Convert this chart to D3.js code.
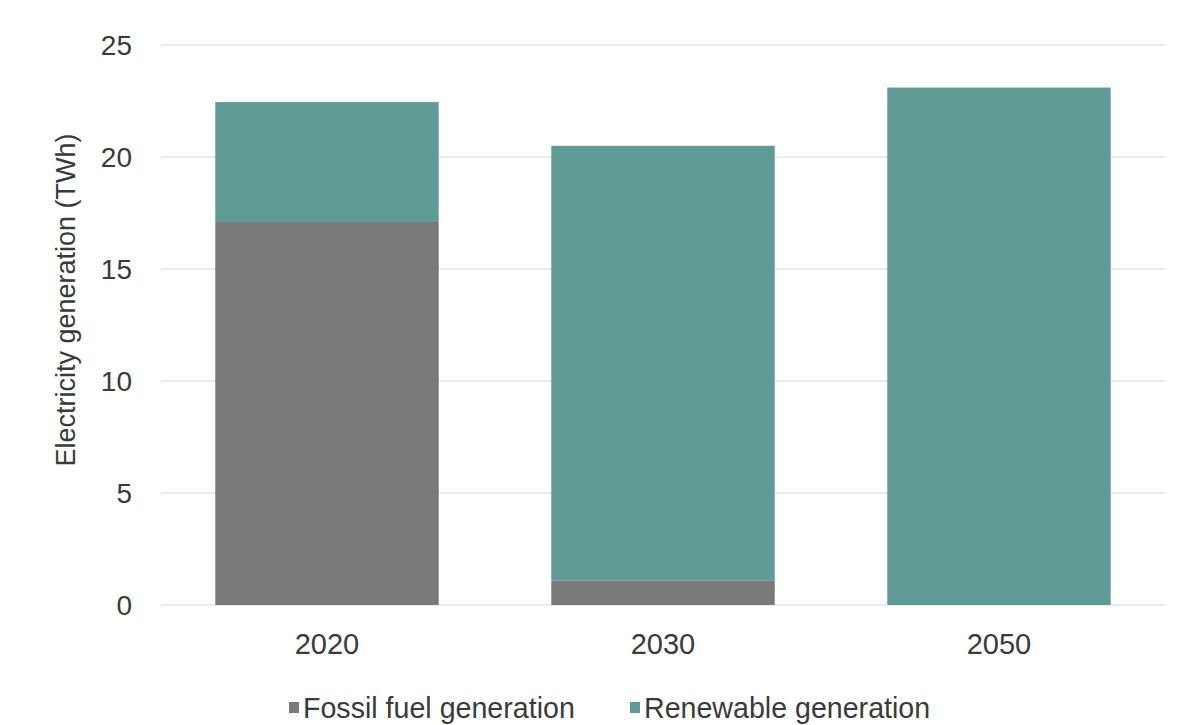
<!DOCTYPE html>
<html>
<head>
<meta charset="utf-8">
<script src="https://cdn.jsdelivr.net/npm/d3@7"></script>
<style>
  body { margin: 0; background: #fff; }
  text { font-family: "Liberation Sans", Arial, Helvetica, sans-serif; fill: #3a3a3a; }
</style>
</head>
<body>
<div id="chart"></div>
<script>
const years = ["2020", "2030", "2050"];
const fossil = [17.1, 1.1, 0];
const renewable = [5.35, 19.4, 23.1];
const seriesNames = ["Fossil fuel generation", "Renewable generation"];
const seriesColors = ["#7a7a7a", "#5f9b94"];
const yTicks = [0, 5, 10, 15, 20, 25];

const width = 1187,
  height = 725;

const data = years.map((y, i) => ({ year: y, fossil: fossil[i], renewable: renewable[i] }));
const stack = d3.stack().keys(["fossil", "renewable"])(data);

const x = d3.scaleBand()
  .domain(years)
  .range([159, 1167])
  .paddingInner(0.335)
  .paddingOuter(0.1675);

const y = d3.scaleLinear()
  .domain([0, 25])
  .range([605, 45]);

const svg = d3.select("#chart")
  .append("svg")
  .attr("width", width)
  .attr("height", height);

// grid
svg.append("g")
  .selectAll("line")
  .data(yTicks)
  .join("line")
  .attr("x1", 161)
  .attr("x2", 1165)
  .attr("y1", d => y(d))
  .attr("y2", d => y(d))
  .attr("stroke", "#e4e4e4")
  .attr("stroke-width", 1.5);

// y axis labels
svg.append("g")
  .selectAll("text")
  .data(yTicks)
  .join("text")
  .attr("x", 132)
  .attr("y", d => y(d))
  .attr("dy", "0.35em")
  .attr("text-anchor", "end")
  .style("font-size", "28px")
  .text(d => d);

svg.append("text")
  .attr("transform", "translate(75,300) rotate(-90)")
  .attr("text-anchor", "middle")
  .style("font-size", "27px")
  .text("Electricity generation (TWh)");

// bars
svg.append("g")
  .selectAll("g")
  .data(stack)
  .join("g")
  .attr("fill", (d, i) => seriesColors[i])
  .selectAll("rect")
  .data(d => d.filter(s => s[1] - s[0] > 0))
  .join("rect")
  .attr("x", d => x(d.data.year))
  .attr("width", x.bandwidth())
  .attr("y", d => y(d[1]))
  .attr("height", d => y(d[0]) - y(d[1]));

// x labels
svg.append("g")
  .selectAll("text")
  .data(years)
  .join("text")
  .attr("x", d => x(d) + x.bandwidth() / 2)
  .attr("y", 644)
  .attr("dy", "0.35em")
  .attr("text-anchor", "middle")
  .style("font-size", "29px")
  .text(d => d);

// legend
const legendX = [289, 630];
const legend = svg.append("g")
  .selectAll("g")
  .data(seriesNames)
  .join("g")
  .attr("transform", (d, i) => `translate(${legendX[i]},708)`);

legend.append("rect")
  .attr("x", 0)
  .attr("y", -6)
  .attr("width", 10)
  .attr("height", 11)
  .attr("fill", (d, i) => seriesColors[i]);

legend.append("text")
  .attr("x", 14)
  .attr("dy", "0.35em")
  .style("font-size", "28.6px")
  .text(d => d);
</script>
</body>
</html>
